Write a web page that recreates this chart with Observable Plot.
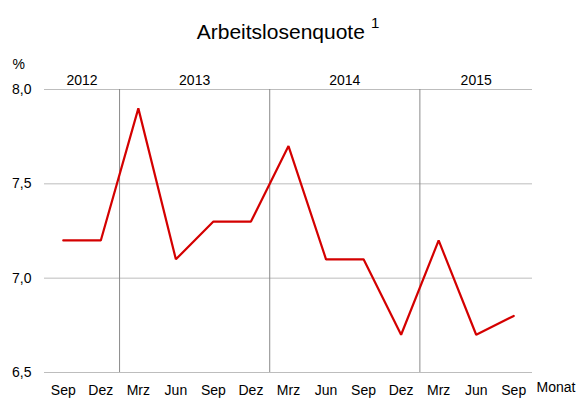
<!DOCTYPE html>
<html>
<head>
<meta charset="utf-8">
<script src="https://cdn.jsdelivr.net/npm/d3@7"></script>
<script src="https://cdn.jsdelivr.net/npm/@observablehq/plot@0.6"></script>
<style>
  body { margin: 0; background: #fff; font-family: "Liberation Sans", Arial, sans-serif; }
  #title { height: 50px; width: 576px; font-size: 21px; line-height: 1; position: relative; }
  #title span { position: absolute; top: 21px; left: 0; width: 576px; text-align: center; }
  #title sup { font-size: 15px; vertical-align: 0; position: relative; top: -11px; margin-left: 6px; }
</style>
</head>
<body>
<div id="title"><span>Arbeitslosenquote<sup>1</sup></span></div>
<div id="chart"></div>
<script>
const months = ["Sep","Dez","Mrz","Jun","Sep","Dez","Mrz","Jun","Sep","Dez","Mrz","Jun","Sep"];
const values = [7.2, 7.2, 7.9, 7.1, 7.3, 7.3, 7.7, 7.1, 7.1, 6.7, 7.2, 6.7, 6.8];
const years = ["2012", "2013", "2014", "2015"];
const yearStartIndex = [0, 2, 6, 10];
const yTicks = [6.5, 7.0, 7.5, 8.0];

const data = months.map((m, i) => ({i, m, v: values[i]}));
const n = months.length;
const bounds = yearStartIndex.map(s => s - 0.5).concat([n - 0.5]);
const yearData = years.map((y, k) => ({y, x: (bounds[k] + bounds[k + 1]) / 2}));
const separators = bounds.slice(1, -1);
const fmt = d => d.toFixed(1).replace(".", ",");

const chart = Plot.plot({
  width: 576,
  height: 351,
  marginTop: 39,
  marginBottom: 29,
  marginLeft: 44,
  marginRight: 44,
  style: {fontFamily: "'Liberation Sans', Arial, sans-serif", fontSize: "14px", color: "#000", background: "#fff"},
  x: {type: "linear", domain: [-0.5, n - 0.5]},
  y: {domain: [6.5, 8.0]},
  marks: [
    Plot.ruleY(yTicks, {stroke: "#bdbdbd", strokeWidth: 1, strokeOpacity: 1}),
    Plot.ruleX(separators, {y1: 6.5, y2: 8.0, stroke: "#8a8a8a", strokeWidth: 1}),
    Plot.axisX(d3.range(n), {tickSize: 0, tickPadding: 13, tickFormat: i => months[i], label: null, fontSize: 14}),
    Plot.axisY(yTicks, {tickSize: 0, tickPadding: 13, tickFormat: fmt, label: null, fontSize: 14}),
    Plot.line(data, {x: "i", y: "v", stroke: "#d40000", strokeWidth: 2.2, strokeLinejoin: "miter"}),
    Plot.text(yearData, {x: "x", text: "y", frameAnchor: "top", dy: -14, fontSize: 14, fill: "#000"}),
    Plot.text(["%"], {frameAnchor: "top-left", dx: -32, dy: -30, fontSize: 14, fill: "#000"}),
    Plot.text(["Monat"], {frameAnchor: "bottom-right", textAnchor: "start", dx: 4, dy: 19, fontSize: 14, fill: "#000"})
  ]
});
document.getElementById("chart").appendChild(chart);
</script>
</body>
</html>
